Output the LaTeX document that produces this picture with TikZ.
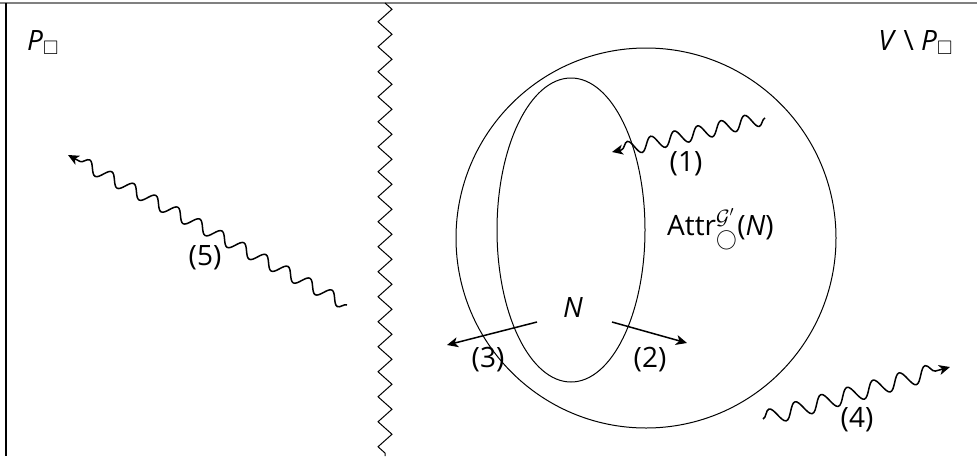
\documentclass[tikz,border=0pt]{standalone}
\usepackage{amssymb}
\usepackage{fontspec}
\setmainfont{Open Sans}
\usetikzlibrary{decorations.pathmorphing,arrows.meta}
\tikzset{
  lbl/.style={inner sep=0pt, font=\fontsize{28}{32}\selectfont},
  thinline/.style={line width=1pt},
  tip/.style={-{Stealth[length=11pt,width=10pt,inset=3pt]}},
  wave/.style={line width=1.5pt, decorate, tip},
  straightarrow/.style={line width=1.5pt, tip}
}
\begin{document}
\begin{tikzpicture}[x=1pt,y=-1pt]
\useasboundingbox (0,0) rectangle (977,456);
% borders
\coordinate (tl) at (0,3); \coordinate (tr) at (977,3);
\coordinate (lt) at (6,3); \coordinate (lb) at (6,456);
\draw[line width=2pt, gray] (tl) -- (tr);
\draw[line width=2.4pt] (lt) -- (lb);
% zigzag separator
\coordinate (zt) at (385,3); \coordinate (zb) at (385,456);
\draw[line width=1pt, decorate, decoration={zigzag, amplitude=7pt, segment length=25pt}] (zt) -- (zb);
% big circle and ellipse
\coordinate (cc) at (646,238);
\coordinate (ec) at (571,230);
\draw[thinline] (cc) circle [radius=190];
\draw[thinline] (ec) ellipse [x radius=74, y radius=152];
% labels
\node[lbl, anchor=base west] (lP) at (27,50) {\textit{P}$_{\square}$};
\node[lbl, anchor=base east] (lVP) at (953,50) {\textit{V} \textbackslash{} \textit{P}$_{\square}$};
\node[lbl, anchor=base west] (lattr) at (667,235) {Attr$^{\mathcal{G}'}_{\bigcirc}$(\textit{N})};
\node[lbl, anchor=base] (lN) at (573,317) {\textit{N}};
\node[lbl] (l1) at (686,164) {(1)};
\node[lbl] (l2) at (650,360) {(2)};
\node[lbl] (l3) at (488,360) {(3)};
\node[lbl] (l4) at (857,420) {(4)};
\node[lbl] (l5) at (205,258) {(5)};
% wavy arrows
\coordinate (w1s) at (765,118); \coordinate (w1e) at (612,152);
\draw[wave, decoration={snake, amplitude=7pt, segment length=24pt, post length=8pt}] (w1s) -- (w1e);
\coordinate (w4s) at (763,419); \coordinate (w4e) at (950,367);
\draw[wave, decoration={snake, amplitude=8pt, segment length=27pt, post length=8pt}] (w4s) -- (w4e);
\coordinate (w5s) at (347,305); \coordinate (w5e) at (68,155);
\draw[wave, decoration={snake, amplitude=6pt, segment length=25pt, post length=8pt}] (w5s) -- (w5e);
% straight arrows
\coordinate (a3s) at (537,322); \coordinate (a3e) at (447,345);
\draw[straightarrow] (a3s) -- (a3e);
\coordinate (a2s) at (612,322); \coordinate (a2e) at (687,343);
\draw[straightarrow] (a2s) -- (a2e);
\end{tikzpicture}
\end{document}
